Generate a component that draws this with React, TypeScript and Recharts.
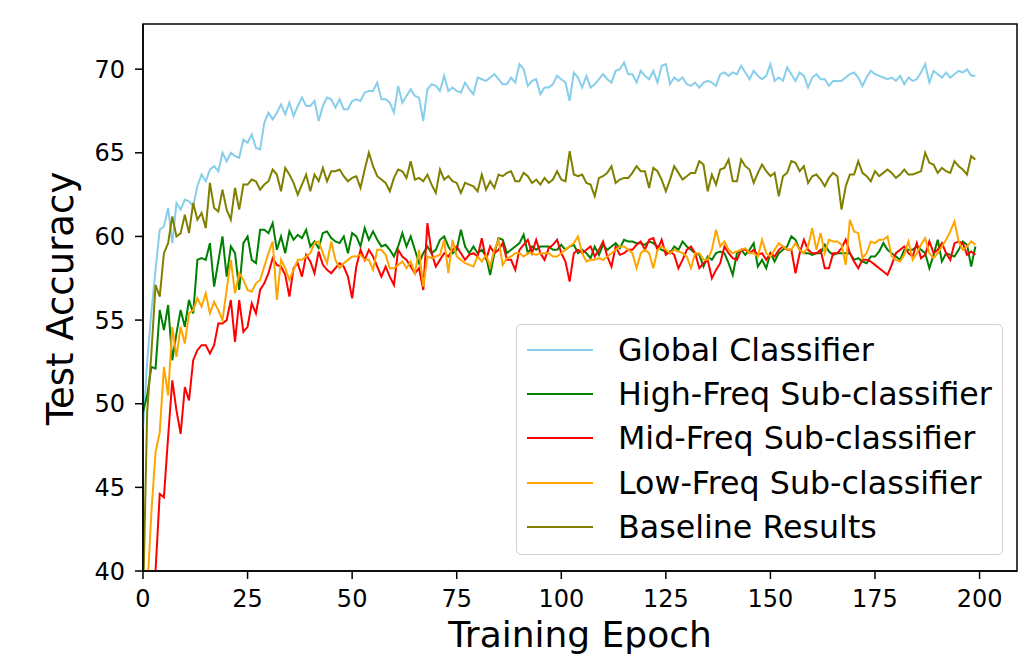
import React from 'react';
import { LineChart, Line, XAxis, YAxis, Legend, ReferenceArea } from 'recharts';

const EPOCHS = Array.from({ length: 200 }, (_, i) => i);
const X_TICKS = [0, 25, 50, 75, 100, 125, 150, 175, 200];
const Y_TICKS = [40, 45, 50, 55, 60, 65, 70];

const GLOBAL = [
  48.5, 52.5, 55.5, 58, 60.4, 60.6, 61.7, 59.6, 62, 61.6,
  62.2, 62.1, 61.8, 63, 63.7, 63.3, 64, 64.2, 63.9, 65,
  64.5, 65, 64.8, 64.7, 65.8, 65.6, 66.1, 65.3, 65.2, 66.8,
  67.4, 67, 67.4, 67.9, 67.3, 68, 67.2, 67.8, 68.3, 67.8,
  67.8, 68.1, 66.9, 67.8, 68.3, 68.2, 67.7, 68.2, 67.6, 67.6,
  68.1, 68.2, 68.1, 68.6, 68.7, 68.7, 69.2, 68.2, 68.2, 68,
  67.4, 69, 68, 68.4, 68.8, 68.4, 68.3, 66.9, 68.8, 69.1,
  69, 68.7, 69.6, 68.7, 68.9, 68.7, 68.6, 69.2, 68.8, 68.5,
  69.5, 69.4, 69.3, 69.5, 69.7, 69.4, 69.1, 69.1, 69.5, 69.2,
  70.3, 70, 69, 69.3, 69.4, 68.5, 68.9, 68.9, 69.1, 69.6,
  69.4, 69.2, 68.1, 69.8, 69.5, 68.9, 69.6, 68.9, 69.1, 69.4,
  69.7, 69.4, 69.2, 69.9, 70, 70.4, 69.7, 69.7, 69.2, 69.9,
  69.6, 69.4, 69.9, 69.2, 70.2, 70.3, 69.1, 69.5, 69.3, 69.5,
  69.1, 69, 69.2, 68.9, 69.2, 69.3, 69.2, 69, 69.7, 69.8,
  69.6, 69.8, 69.7, 70.2, 69.8, 69.4, 69.9, 69.6, 69.4, 69.6,
  70.3, 69.3, 69.5, 69.3, 70.1, 69.7, 69.3, 69.8, 69.6, 68.9,
  69.5, 69.7, 69.4, 69.4, 69, 69.3, 69.3, 69.3, 69.5, 69.7,
  69.8, 69.5, 69, 69.5, 69.9, 69.7, 69.6, 69.5, 69.4, 69.5,
  69.3, 69.6, 69.1, 69.5, 69.3, 69.4, 69.8, 70.3, 69.2, 69.9,
  69.7, 69.5, 69.8, 69.5, 69.7, 69.9, 69.8, 70, 69.6, 69.6,
];

const HIGH = [
  49.5, 50.5, 52.2, 52.1, 55.6, 54.4, 55.9, 52.6, 54.2, 55.6,
  54.6, 56.2, 55.4, 58.6, 58.7, 58.6, 59.6, 57, 58.5, 60,
  57.6, 59.4, 59, 56.8, 59.6, 60, 58.6, 58.4, 60.4, 60.4,
  60.2, 60.8, 59.2, 60, 59, 60.3, 59.8, 60.1, 59.9, 60.4,
  59.4, 59.7, 59.3, 60.2, 60.3, 59.9, 59.7, 59.6, 60, 59,
  60.2, 60, 59.4, 60.5, 59.8, 60.3, 59.8, 59.4, 59.5, 59.2,
  58.8, 59.4, 60.2, 59.4, 60, 59.2, 58.4, 59, 59.4, 59,
  59.2, 59.8, 60, 59.4, 59, 59.2, 60.4, 59.4, 59, 59.4,
  59, 59.2, 58.8, 57.7, 59, 59.9, 59.8, 59, 59.2, 59.4,
  59.6, 60.1, 59, 59.4, 59.2, 59.4, 59.4, 59.4, 59.2, 59.2,
  59.5, 59.2, 59.4, 59.5, 59, 59.2, 59, 58.7, 59.4, 58.9,
  59.5, 59.2, 59.4, 59.6, 59.3, 59.8, 59.7, 59.7, 59.6, 59.6,
  59.5, 59.7, 59.6, 59.4, 59.2, 59.1, 59, 59.4, 59.2, 59.7,
  59.4, 59.2, 59, 58.9, 58.2, 58.8, 58.6, 59, 59.1, 59,
  58.4, 57.7, 59, 59.2, 58.9, 59.2, 59.6, 58.2, 58.6, 58.1,
  59, 58.5, 59, 59.2, 59.4, 60, 59.8, 59.2, 59, 59,
  58.9, 59, 59, 59.5, 59.1, 58.9, 59, 59, 59, 59,
  58.6, 58.7, 58.5, 58.4, 58.8, 58.8, 59.1, 59.6, 59.2, 59,
  58.8, 58.6, 59.2, 59.2, 59.2, 59.4, 59.2, 59, 58.1, 58.9,
  59.8, 58.5, 59, 58.9, 58.8, 59.2, 59.7, 59.5, 58.2, 59.4,
];

const MID = [
  30, 34, 37.5, 40, 44.6, 44.4, 48, 51.4, 49.6, 48.2,
  51, 50.2, 52.6, 53.2, 53.5, 53.5, 53, 53.5, 54.8, 54.8,
  55, 56.2, 53.7, 56.2, 54.3, 54.6, 56, 55.4, 56.8, 57.2,
  57.8, 58.7, 58.3, 58.2, 57.7, 56.4, 58.1, 58.4, 57.6, 58.9,
  58.5, 57.8, 59.1, 58.3, 58, 57.8, 58.1, 58.4, 58.2, 57.6,
  56.3, 58.2, 59.2, 58.6, 59.2, 58.8, 58.2, 57.6, 58.2, 57.6,
  57.1, 59.2, 58.8, 58.6, 58.2, 57.8, 58.1, 56.8, 60.8, 59,
  58.2, 58.6, 59, 58.8, 59.2, 59.4, 59, 58.6, 58.9, 59,
  58.8, 59.9, 58.6, 59.4, 59, 59.2, 59.6, 58.6, 58.6, 58,
  59.2, 59.5, 59.8, 59, 59.8, 59, 58.6, 59.3, 59.5, 59.8,
  59, 58.5, 57.3, 59, 59.2, 59, 59.2, 59.4, 58.8, 59.2,
  59.7, 58.8, 58.2, 59.4, 58.9, 59, 59.2, 59.2, 59.5, 59.7,
  59.2, 59.8, 59.9, 59.2, 59.8, 58.9, 59.1, 58.9, 58.1, 58.6,
  59.2, 59.4, 59, 58.1, 58.4, 58.6, 57.5, 58, 58.4, 59.4,
  59, 58.7, 58.6, 59.2, 59.2, 59, 59.2, 58.9, 59, 58.6,
  59, 58.8, 59.2, 59.4, 59.2, 59.2, 57.8, 59, 59.8, 59.2,
  59, 59, 59.2, 58.1, 58.1, 59, 59, 59.3, 59.8, 59,
  58.5, 58.1, 58.6, 58.6, 58.5, 58.3, 58.1, 57.9, 57.7, 58.3,
  59, 59.2, 59.4, 59, 58.8, 59.6, 58.7, 58.9, 59.7, 59,
  59.2, 59.6, 59, 58.6, 59.6, 59.7, 59.6, 58.9, 59.1, 58.9,
];

const LOW = [
  30, 38.7, 43.5, 47.1, 48.3, 52.2, 50.5, 54.6, 52.8, 54.6,
  53.6, 55.4, 55.6, 56.3, 55.8, 56.6, 55.4, 56.1, 55.6, 55,
  56.8, 58.6, 56.6, 57.8, 57.4, 56.8, 56.7, 57.2, 57.4, 58.2,
  59, 59.7, 56.2, 58.6, 58.1, 57.4, 58, 58.6, 58.6, 58.8,
  59, 59.6, 59.7, 59, 58.4, 59.7, 58.6, 58.1, 58.4, 58.6,
  58.8, 58.8, 58.9, 58.6, 58.6, 58, 59.2, 59.2, 58.9, 58.1,
  58.1, 58.3, 58.5, 58.1, 58.5, 57.8, 59.2, 57, 58.8, 58.7,
  58.8, 58.9, 59.8, 57.8, 59.8, 58.8, 58.6, 58.4, 58.3, 58.2,
  58.8, 58.5, 58.9, 58.2, 59.2, 59.8, 58.3, 58.7, 58.8, 59,
  59, 58.8, 59, 59, 58.9, 59, 59, 59, 58.8, 58.8,
  59, 59.2, 59.4, 59.6, 60, 59, 58.5, 58.6, 58.6, 58.7,
  58.6, 58.8, 59, 59.2, 59.4, 59.4, 59.2, 59, 58.1, 59,
  59.2, 59, 58.1, 59.2, 59.4, 59.2, 59, 59.2, 59.1, 59,
  58.8, 58.1, 59, 59, 58.6, 58.6, 59.2, 60.4, 59.4, 59.7,
  59.2, 59, 59.1, 59.2, 59.3, 59, 59, 58.8, 59.8, 59,
  58.8, 59.2, 59.6, 59.4, 59.2, 59.2, 59.6, 59.2, 59, 59.4,
  60.5, 59.2, 60.2, 59, 59.8, 59.7, 59.7, 59.5, 58.3, 61,
  60.3, 60.2, 58.7, 59, 59.7, 59.6, 59.8, 59.8, 60, 58.8,
  58.6, 58.5, 58.9, 59.7, 58.6, 59, 59.5, 59.9, 59, 58.7,
  59, 59.4, 59.8, 60.3, 60.9, 59.7, 59.2, 59.4, 59.7, 59.5,
];

const BASE = [
  38, 49.5, 53, 57.1, 56.4, 59, 59.6, 61.2, 60, 60.2,
  61.3, 60.2, 62, 61, 61.4, 60.5, 63.2, 61.7, 61.5, 62.8,
  61.6, 61, 62.9, 61.6, 63.1, 63.1, 63.4, 63.3, 62.8, 63.1,
  63.3, 64, 63.7, 62.7, 64.1, 63.7, 63.2, 62.5, 63.1, 63.7,
  62.7, 63.7, 63.3, 64.1, 63.3, 63.9, 63.9, 64, 63.6, 63.3,
  63.5, 63.6, 62.9, 64, 65, 64.2, 63.6, 63.4, 63.2, 62.7,
  63.5, 64, 63.9, 63.5, 64.5, 63.4, 63.5, 63.3, 63.7, 63.1,
  62.6, 64, 63.4, 63.6, 63.3, 63.2, 62.6, 63.2, 63.1, 63,
  62.7, 63.7, 62.8, 63.3, 62.9, 63.7, 63.6, 63.8, 63.9, 63.3,
  63.3, 63.8, 63.6, 63.2, 63.4, 63.1, 63.5, 63.2, 63.4, 63.9,
  63.4, 63.3, 65.1, 63.7, 63.6, 63.7, 63.2, 63.1, 62.4, 63.5,
  63.6, 63.8, 64.2, 63.2, 63.4, 63.5, 63.5, 63.8, 64.2, 63.9,
  63.9, 62.9, 64.1, 63.9, 63.4, 62.7, 63.4, 64.2, 63.8, 63.4,
  63.6, 63.8, 63.8, 64.5, 64.3, 62.7, 63.7, 63.1, 64, 64.1,
  64.6, 63.3, 63.3, 64.6, 64.2, 64, 63.2, 63.8, 64.3, 63.9,
  63.6, 63.8, 62.4, 63.6, 63.8, 64.5, 64.4, 63.9, 64.2, 63.2,
  63.6, 63.7, 63.4, 63, 63.5, 63.8, 63.6, 61.6, 63, 63.7,
  63.7, 64.5, 63.8, 63.6, 63.3, 63.9, 63.6, 63.8, 64, 63.8,
  63.5, 63.7, 64, 63.7, 63.7, 63.8, 63.9, 65, 64.4, 64.3,
  63.8, 64.1, 63.9, 63.8, 64.5, 64.2, 64, 63.7, 64.8, 64.6,
];

const SERIES = [
  { key: 'global', name: 'Global Classifier', color: '#87ceeb', values: GLOBAL },
  { key: 'high', name: 'High-Freq Sub-classifier', color: '#008000', values: HIGH },
  { key: 'mid', name: 'Mid-Freq Sub-classifier', color: '#ff0000', values: MID },
  { key: 'low', name: 'Low-Freq Sub-classifier', color: '#ffa500', values: LOW },
  { key: 'base', name: 'Baseline Results', color: '#808000', values: BASE },
];

const X_DOMAIN = [0, 208.95];
const Y_DOMAIN = [40, 72.7];

const rows = EPOCHS.map((epoch, i) => {
  const row: Record<string, number> = { epoch };
  SERIES.forEach((s) => {
    row[s.key] = s.values[i];
  });
  return row;
});

const FONT = '"DejaVu Sans", sans-serif';
const tickStyle = { fill: '#000', fontSize: 24, fontFamily: FONT };

// matplotlib-style framed legend, kept in plotting order
function BoxLegend({ payload }: any) {
  const order = (v: string) => SERIES.findIndex((s) => s.name === v);
  const items = [...(payload || [])].sort((a: any, b: any) => order(a.value) - order(b.value));
  return (
    <div
      style={{
        position: 'relative',
        width: 487,
        height: 231,
        boxSizing: 'border-box',
        border: '1.5px solid #d0d0d0',
        borderRadius: 5,
        background: 'rgba(255,255,255,0.8)',
        fontFamily: FONT,
        fontSize: 31.7,
        color: '#000',
      }}
    >
      {items.map((p: any, i: number) => (
        <div
          key={p.value}
          style={{
            position: 'absolute',
            left: 0,
            top: 3 + i * 44.2,
            height: 44,
            display: 'flex',
            alignItems: 'center',
            whiteSpace: 'nowrap',
          }}
        >
          <svg width={101} height={44} style={{ display: 'block' }}>
            <line x1={10} x2={76} y1={22} y2={22} stroke={p.color} strokeWidth={2.2} />
          </svg>
          <span style={{ lineHeight: '44px' }}>{p.value}</span>
        </div>
      ))}
    </div>
  );
}

export default function App() {
  return (
    <div style={{ position: 'absolute', left: 0, top: 0, width: 1019, height: 656, background: '#fff' }}>
      <LineChart width={1019} height={656} data={rows} margin={{ top: 24, right: 2, left: 0, bottom: 0 }}>
        <XAxis
          dataKey="epoch"
          type="number"
          domain={X_DOMAIN}
          ticks={X_TICKS}
          allowDataOverflow
          height={85}
          tick={tickStyle}
          tickSize={8}
          tickMargin={11}
          axisLine={{ stroke: '#000', strokeWidth: 1.5 }}
          tickLine={{ stroke: '#000', strokeWidth: 1.5 }}
          label={{
            content: ({ viewBox }: any) => (
              <text
                x={viewBox.x + viewBox.width / 2}
                y={viewBox.y + 76}
                textAnchor="middle"
                fontSize={36}
                fontFamily={FONT}
                fill="#000"
              >
                Training Epoch
              </text>
            ),
          }}
        />
        <YAxis
          type="number"
          domain={Y_DOMAIN}
          ticks={Y_TICKS}
          allowDataOverflow
          width={143}
          tick={tickStyle}
          tickSize={8}
          tickMargin={10}
          axisLine={{ stroke: '#000', strokeWidth: 1.5 }}
          tickLine={{ stroke: '#000', strokeWidth: 1.5 }}
          label={{
            content: ({ viewBox }: any) => {
              const cx = viewBox.x + 73;
              const cy = viewBox.y + viewBox.height / 2 + 1;
              return (
                <text
                  x={cx}
                  y={cy}
                  transform={`rotate(-90 ${cx} ${cy})`}
                  textAnchor="middle"
                  fontSize={37}
                  fontFamily={FONT}
                  fill="#000"
                >
                  Test Accuracy
                </text>
              );
            },
          }}
        />
        <ReferenceArea
          x1={X_DOMAIN[0]}
          x2={X_DOMAIN[1]}
          y1={Y_DOMAIN[0]}
          y2={Y_DOMAIN[1]}
          fill="none"
          stroke="#000"
          strokeWidth={1.5}
          ifOverflow="visible"
        />
        {SERIES.map((s) => (
          <Line
            key={s.key}
            type="linear"
            dataKey={s.key}
            name={s.name}
            stroke={s.color}
            strokeWidth={2}
            dot={false}
            activeDot={false}
            isAnimationActive={false}
          />
        ))}
        <Legend
          layout="vertical"
          align="center"
          verticalAlign="middle"
          content={<BoxLegend />}
          wrapperStyle={{ position: 'absolute', left: 516, top: 324, width: 487, height: 231 }}
        />
      </LineChart>
    </div>
  );
}
